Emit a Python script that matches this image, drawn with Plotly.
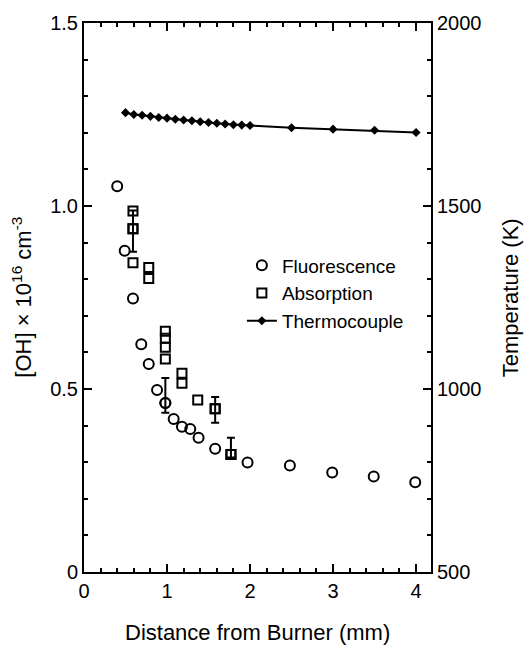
import plotly.graph_objects as go

# Fluorescence (open circles)
fl_x = [0.40, 0.49, 0.59, 0.69, 0.78, 0.88, 0.98, 1.08, 1.18, 1.28, 1.38, 1.58, 1.97, 2.48, 2.99, 3.49, 3.99]
fl_y = [1.054, 0.878, 0.747, 0.622, 0.568, 0.497, 0.462, 0.418, 0.397, 0.391, 0.367, 0.337, 0.299, 0.291, 0.272, 0.261, 0.245]
# error bar on fluorescence point
fl_err_x = [0.98]
fl_err_y = [0.462]
fl_err_plus = [0.068]
fl_err_minus = [0.027]

# Absorption (open squares)
ab_x = [0.59, 0.59, 0.59, 0.78, 0.78, 0.98, 0.98, 0.98, 0.98, 1.18, 1.18, 1.37, 1.58, 1.77]
ab_y = [0.986, 0.938, 0.845, 0.832, 0.802, 0.658, 0.639, 0.614, 0.582, 0.543, 0.516, 0.470, 0.446, 0.321]
ab_err_x = [0.59, 1.58, 1.77]
ab_err_y = [0.938, 0.446, 0.321]
ab_err_plus = [0.050, 0.032, 0.046]
ab_err_minus = [0.063, 0.038, 0.008]

# Thermocouple temperature (K)
tc_x = [0.5, 0.6, 0.7, 0.8, 0.9, 1.0, 1.1, 1.2, 1.3, 1.4, 1.5, 1.6, 1.7, 1.8, 1.9, 2.0, 2.5, 3.0, 3.5, 4.0]
tc_t = [1755, 1750, 1748, 1745, 1742, 1740, 1737, 1735, 1733, 1730, 1728, 1726, 1724, 1722, 1721, 1720, 1714, 1710, 1707, 1701]

x_ticks = [0, 1, 2, 3, 4]
y_ticks = [0, 0.5, 1.0, 1.5]
y_ticktext = ["0", "0.5", "1.0", "1.5"]
t_ticks = [500, 1000, 1500, 2000]

FONT = "Liberation Sans, Arial, Helvetica, sans-serif"
BLK = "black"

fig = go.Figure()

fig.add_trace(go.Scatter(
    x=fl_x, y=fl_y, mode="markers", name="Fluorescence",
    marker=dict(symbol="circle-open", size=10, color=BLK, line=dict(width=2, color=BLK)),
))
fig.add_trace(go.Scatter(
    x=fl_err_x, y=fl_err_y, mode="markers", showlegend=False,
    marker=dict(symbol="circle-open", size=10, color=BLK, line=dict(width=2, color=BLK)),
    error_y=dict(type="data", symmetric=False, array=fl_err_plus, arrayminus=fl_err_minus,
                 color=BLK, thickness=2, width=4),
))
fig.add_trace(go.Scatter(
    x=ab_x, y=ab_y, mode="markers", name="Absorption",
    marker=dict(symbol="square-open", size=9, color=BLK, line=dict(width=2, color=BLK)),
))
fig.add_trace(go.Scatter(
    x=ab_err_x, y=ab_err_y, mode="markers", showlegend=False,
    marker=dict(symbol="square-open", size=9, color=BLK, line=dict(width=2, color=BLK)),
    error_y=dict(type="data", symmetric=False, array=ab_err_plus, arrayminus=ab_err_minus,
                 color=BLK, thickness=2, width=4),
))
fig.add_trace(go.Scatter(
    x=tc_x, y=tc_t, mode="lines+markers", name="Thermocouple", yaxis="y2",
    line=dict(color=BLK, width=2),
    marker=dict(symbol="diamond", size=7, color=BLK),
))

fig.update_layout(
    width=532, height=649,
    margin=dict(l=84, r=101, t=20, b=77),
    paper_bgcolor="white", plot_bgcolor="white",
    font=dict(family=FONT, size=20, color=BLK),
    xaxis=dict(
        range=[0, 4.18], tickvals=x_ticks, ticks="inside", ticklen=8, tickwidth=2,
        tickcolor=BLK, showline=True, linecolor=BLK, linewidth=2, mirror="ticks",
        showgrid=False, zeroline=False,
        minor=dict(dtick=0.2, ticks="inside", ticklen=4, tickwidth=1.5, tickcolor=BLK),
        tickfont=dict(size=20),
    ),
    yaxis=dict(
        range=[0, 1.5], tickvals=y_ticks, ticktext=y_ticktext, ticks="inside", ticklen=8,
        tickwidth=2, tickcolor=BLK, showline=True, linecolor=BLK, linewidth=2,
        showgrid=False, zeroline=False,
        minor=dict(dtick=0.1, ticks="inside", ticklen=4, tickwidth=1.5, tickcolor=BLK),
        tickfont=dict(size=20),
    ),
    yaxis2=dict(
        range=[500, 2000], tickvals=t_ticks, overlaying="y", side="right",
        ticks="inside", ticklen=8, tickwidth=2, tickcolor=BLK, showline=True,
        linecolor=BLK, linewidth=2, showgrid=False, zeroline=False,
        minor=dict(dtick=100, ticks="inside", ticklen=4, tickwidth=1.5, tickcolor=BLK),
        tickfont=dict(size=20),
    ),
    legend=dict(
        x=0.455, y=0.593, xanchor="left", yanchor="top",
        bgcolor="rgba(0,0,0,0)", font=dict(size=19, family=FONT),
        tracegroupgap=0,
    ),
    showlegend=True,
    annotations=[
        dict(text="Distance from Burner (mm)", xref="paper", yref="paper",
             x=0.5, y=-0.1105, xanchor="center", yanchor="middle",
             showarrow=False, font=dict(size=22)),
        dict(text="[OH] × 10<sup>16</sup> cm<sup>-3</sup>", xref="paper", yref="paper",
             x=-0.181, y=0.5, xanchor="center", yanchor="middle", textangle=-90,
             showarrow=False, font=dict(size=22)),
        dict(text="Temperature (K)", xref="paper", yref="paper",
             x=1.23, y=0.5, xanchor="center", yanchor="middle", textangle=-90,
             showarrow=False, font=dict(size=22)),
    ],
)

fig.write_html("out.html")
